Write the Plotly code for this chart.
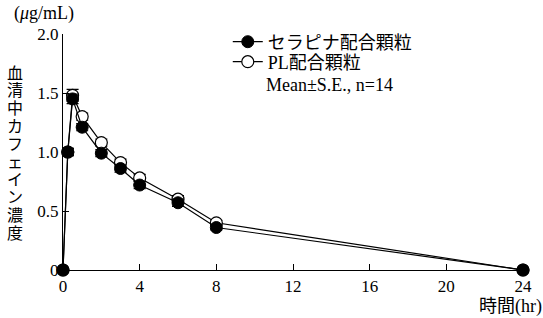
import plotly.graph_objects as go

time_hr = [0, 0.25, 0.5, 1, 2, 3, 4, 6, 8, 24]
serapina = [0, 1.00, 1.45, 1.21, 0.99, 0.86, 0.72, 0.57, 0.36, 0]
serapina_se = [0, 0.03, 0.04, 0.03, 0.03, 0.03, 0.03, 0.03, 0.02, 0]
pl = [0, 1.00, 1.48, 1.30, 1.08, 0.91, 0.78, 0.60, 0.40, 0]
pl_se = [0, 0.03, 0.05, 0.03, 0.03, 0.03, 0.03, 0.03, 0.02, 0]

x_ticks = [0, 4, 8, 12, 16, 20, 24]
y_ticks = [0, 0.5, 1.0, 1.5, 2.0]
y_ticktext = ["0", "0.5", "1.0", "1.5", "2.0"]
y_title_chars = list("血清中カフェイン濃度")

SERIF = "Liberation Serif, Noto Sans CJK JP, serif"

W, H = 543, 318
L, R, T, B = 63, 11, 34, 48
plot_w = W - L - R
plot_h = H - T - B


def px_x(px):
    return (px - L) / plot_w


def px_y(py):
    return (H - B - py) / plot_h


fig = go.Figure()
fig.add_trace(go.Scatter(
    x=time_hr, y=pl, name="PL配合顆粒", mode="lines+markers",
    line=dict(color="black", width=1.2),
    marker=dict(symbol="circle", size=12, color="white", line=dict(color="black", width=1.2)),
    error_y=dict(type="data", array=pl_se, visible=True, color="black", thickness=1.2, width=6),
    cliponaxis=False, legend="legend2",
))
fig.add_trace(go.Scatter(
    x=time_hr, y=serapina, name="セラピナ配合顆粒", mode="lines+markers",
    line=dict(color="black", width=1.2),
    marker=dict(symbol="circle", size=12, color="black", line=dict(color="black", width=1)),
    error_y=dict(type="data", array=serapina_se, visible=True, color="black", thickness=1.2, width=6),
    cliponaxis=False, legend="legend",
))

annotations = []
for i, ch in enumerate(y_title_chars):
    py = 73 + 17.8 * i
    annotations.append(dict(
        text=ch, xref="paper", yref="paper",
        x=px_x(14), y=px_y(py),
        xanchor="center", yanchor="middle", showarrow=False,
        font=dict(family=SERIF, size=16, color="black"),
    ))
annotations.append(dict(
    text="(<i>μ</i>g/mL)", xref="paper", yref="paper",
    x=px_x(11), y=px_y(13),
    xanchor="left", yanchor="middle", showarrow=False,
    font=dict(family=SERIF, size=18, color="black"),
))
annotations.append(dict(
    text="時間(hr)", xref="paper", yref="paper",
    x=px_x(553), y=px_y(306),
    xanchor="right", yanchor="middle", showarrow=False,
    font=dict(family=SERIF, size=18, color="black"),
))
annotations.append(dict(
    text="Mean±S.E., n=14", xref="paper", yref="paper",
    x=px_x(268), y=px_y(85),
    xanchor="left", yanchor="middle", showarrow=False,
    font=dict(family=SERIF, size=18, color="black"),
))

legend_common = dict(
    xanchor="left", yanchor="middle",
    bgcolor="rgba(0,0,0,0)", borderwidth=0,
    font=dict(family=SERIF, size=18, color="black"),
    itemwidth=30, tracegroupgap=0,
)

fig.update_layout(
    width=W, height=H,
    margin=dict(l=L, r=R, t=T, b=B, pad=0),
    paper_bgcolor="white", plot_bgcolor="white",
    font=dict(family=SERIF, size=17, color="black"),
    showlegend=True,
    legend=dict(x=px_x(231), y=px_y(42), **legend_common),
    legend2=dict(x=px_x(231), y=px_y(62), **legend_common),
    xaxis=dict(
        range=[0, 24], tickvals=x_ticks, ticktext=[str(v) for v in x_ticks],
        showgrid=False, zeroline=False, showline=True, linecolor="black", linewidth=1.2,
        ticks="inside", ticklen=6, tickcolor="black", tickwidth=1,
        tickfont=dict(family=SERIF, size=17, color="black"),
    ),
    yaxis=dict(
        range=[0, 2], tickvals=y_ticks, ticktext=y_ticktext,
        showgrid=False, zeroline=False, showline=True, linecolor="black", linewidth=1.2,
        ticks="inside", ticklen=6, tickcolor="black", tickwidth=1,
        tickfont=dict(family=SERIF, size=17, color="black"),
    ),
    annotations=annotations,
)

fig.write_html("out.html")
